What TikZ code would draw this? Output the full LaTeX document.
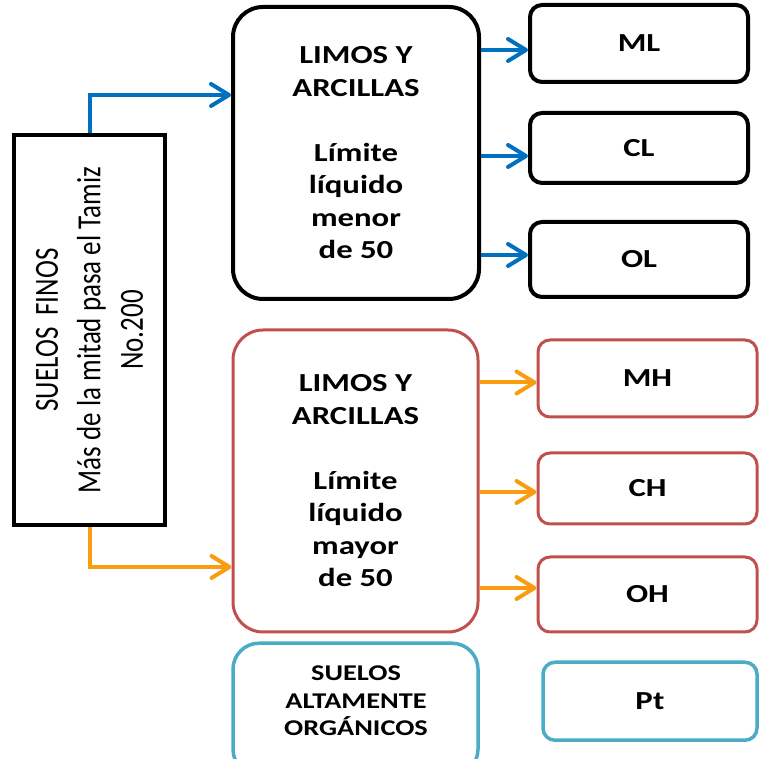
\documentclass[tikz,border=0pt]{standalone}
\usepackage{fontspec}
\setmainfont{Carlito}
\newfontfamily\boxfont[FakeStretch=1.26]{Carlito}
\newfontfamily\sidefont{Carlito}
\usetikzlibrary{positioning,arrows.meta}

\definecolor{arrblue}{RGB}{0,112,192}
\definecolor{arrorange}{RGB}{248,156,16}
\definecolor{boxred}{RGB}{192,80,77}
\definecolor{boxcyan}{RGB}{75,172,198}

\begin{document}
\begin{tikzpicture}[
      x=1pt, y=1pt,
      nodes={align=center, font=\boxfont\bfseries\fontsize{26}{32.5}\selectfont},
      grupo/.style={draw, line width=4pt, rounded corners=30pt,
        minimum width=246pt, minimum height=292pt},
      tipo/.style={draw, line width=4pt, rounded corners=12pt,
        minimum width=218pt, minimum height=74pt, inner sep=0pt},
      flecha/.style={line width=4pt, -{Straight Barb[length=18pt,width=22pt,round]}}
      ]

  \useasboundingbox (0,0) rectangle (759,759);
  \clip (0,0) rectangle (759,759);

	  \node[draw, line width=4.5pt, minimum width=151pt, minimum height=390pt] (fin) at (89.5,429) {};
	  \node[rotate=90, yscale=1.25, font=\sidefont\fontsize{27}{34}\selectfont] (finTxt) at (fin)
	    {SUELOS\ \ FINOS\\Más de la mitad pasa el Tamiz\\No.200};

	  % limos y arcillas, LL < 50
	  \node[grupo] (lim) at (356,606) {LIMOS Y\\ARCILLAS\\[32.5pt]Límite\\líquido\\menor\\de 50};
	  \node[tipo, right = 47pt of lim, minimum height=70pt, yshift=5pt] (cl) {CL};
	  \node[tipo, above = 27pt of cl, minimum height=77pt] (ml) {ML};
	  \node[tipo, below = 35pt of cl, minimum height=75pt] (ol) {OL};

	  % limos y arcillas, LL > 50
	  \node[grupo, draw=boxred, line width=3pt, minimum width=245pt, minimum height=302pt] (limh) at (355.5,278)
	    {LIMOS Y\\ARCILLAS\\[32.5pt]Límite\\líquido\\mayor\\de 50};
	  \node[tipo, draw=boxred, line width=3pt, minimum width=219pt, minimum height=71pt,
	    right = 57pt of limh, yshift=-7.5pt] (ch) {CH};
	  \node[tipo, draw=boxred, line width=3pt, minimum width=219pt, minimum height=77pt,
	    above = 33pt of ch] (mh) {MH};
	  \node[tipo, draw=boxred, line width=3pt, minimum width=219pt, minimum height=75pt,
	    below = 30pt of ch] (oh) {OH};

	  % organicos
	  \node[grupo, draw=boxcyan, line width=3.5pt, rounded corners=26pt, minimum width=245pt, minimum height=132pt,
	    below = 8pt of limh] (org) {};
	  \node[font=\boxfont\bfseries\fontsize{22.5}{27.5}\selectfont] (orgTxt) at (356,58)
	    {SUELOS\\ALTAMENTE\\ORGÁNICOS};
	  \node[tipo, draw=boxcyan, line width=3.5pt, minimum width=214pt, minimum height=78pt,
	    below = 27pt of oh, xshift=2.5pt] (pt) {Pt};

  % Connect the nodes
  \coordinate (a1) at ([yshift=-6.5pt]ml.west);
  \coordinate (a2) at ([yshift=-8pt]cl.west);
  \coordinate (a3) at ([yshift=4.5pt]ol.west);
  \coordinate (b1) at ([yshift=-4pt]mh.west);
  \coordinate (b2) at ([yshift=-3.5pt]ch.west);
  \coordinate (b3) at ([yshift=6.5pt]oh.west);
  \coordinate (t1) at ([yshift=58pt]lim.west);
  \coordinate (t2) at ([yshift=-86pt]limh.west);

  \draw[flecha, arrblue] (fin.north) |- (t1);
  \draw[flecha, arrorange] (fin.south) |- (t2);
  \foreach \p in {a1,a2,a3}
    \draw[flecha, arrblue] (lim.east |- \p) -- (\p);
  \foreach \p in {b1,b2,b3}
    \draw[flecha, arrorange] (limh.east |- \p) -- (\p);

\end{tikzpicture}
\end{document}
